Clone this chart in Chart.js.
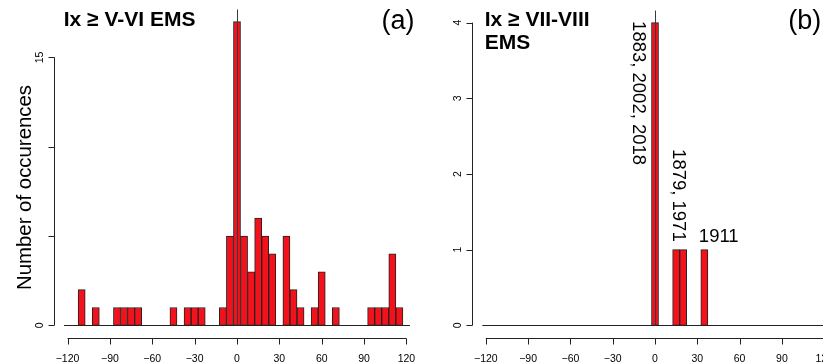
<!DOCTYPE html>
<html><head><meta charset="utf-8">
<script src="https://cdn.jsdelivr.net/npm/chart.js@4.4.1/dist/chart.umd.min.js"></script>
<style>
html,body{margin:0;padding:0;background:#fff;overflow:hidden;width:823px;height:364px;}
#wrap{position:relative;width:823px;height:364px;overflow:hidden;}
canvas{position:absolute;top:0;}
#ca{left:0;}
#cb{left:440px;}
</style></head><body>
<div id="wrap"><canvas id="ca" width="440" height="364"></canvas><canvas id="cb" width="420" height="364"></canvas></div>
<script>
// ---------------- DATA ----------------
const binCentersA = [-110, -100, -85, -80, -75, -70, -45, -35, -30, -25, -10, -5, 0, 5, 10, 15, 20, 25, 35, 40, 45, 55, 60, 70, 95, 100, 105, 110, 115];
const countsA     = [2, 1, 1, 1, 1, 1, 1, 1, 1, 1, 1, 5, 17, 5, 3, 6, 5, 4, 5, 2, 1, 1, 3, 1, 1, 1, 1, 4, 1];
const binCentersB = [0, 15, 20, 35];
const countsB     = [4, 1, 1, 1];
const histRange   = [-122.5, 122.5];
const xLim        = [-120, 120];
const xTicks      = [-120, -90, -60, -30, 0, 30, 60, 90, 120];
const yLimA       = [0, 17];
const yTicksA     = [0, 5, 10, 15];
const yTickLabelsA = ['0', '', '', '15'];
const yLimB       = [0, 4];
const yTicksB     = [0, 1, 2, 3, 4];
const yTickLabelsB = ['0', '1', '2', '3', '4'];
const titleA      = ['Ix \u2265 V-VI EMS'];
const titleB      = ['Ix \u2265 VII-VIII', 'EMS'];
const tagA = '(a)', tagB = '(b)';
const yAxisTitle  = 'Number of occurences';
const eventLabelsB = ['1883, 2002, 2018', '1879, 1971', '1911'];
const eventBinsB   = [[0], [15, 20], [35]];

// ---------------- STYLE ----------------
const FONT = '"Liberation Sans", Arial, Helvetica, sans-serif';
const BAR_FILL = '#f3111b';
const LINE = '#222';
const expand = (lim) => { const d = (lim[1] - lim[0]) * 0.04; return [lim[0] - d, lim[1] + d]; };
const fmt = (v) => (v < 0 ? '\u2212' + Math.abs(v) : String(v));

const rStyle = {
  id: 'rStyle',
  beforeDatasetsDraw(chart) {
    const { ctx } = chart, x = chart.scales.x, y = chart.scales.y;
    ctx.save();
    ctx.strokeStyle = LINE; ctx.lineWidth = 1;
    const py = Math.round(y.getPixelForValue(0)) + 0.5;
    ctx.beginPath();
    ctx.moveTo(x.getPixelForValue(histRange[0]), py);
    ctx.lineTo(x.getPixelForValue(histRange[1]), py);
    ctx.stroke();
    ctx.restore();
  },
  afterDatasetsDraw(chart) {
    const o = chart.options.plugins.rStyle;
    const { ctx, chartArea } = chart, x = chart.scales.x, y = chart.scales.y;
    ctx.save();
    // vertical reference line at 0
    const p0 = Math.round(x.getPixelForValue(0)) + 0.5;
    ctx.strokeStyle = '#3a3a3a'; ctx.lineWidth = 1;
    ctx.beginPath(); ctx.moveTo(p0, chartArea.top); ctx.lineTo(p0, y.getPixelForValue(0)); ctx.stroke();

    ctx.strokeStyle = LINE; ctx.fillStyle = '#000';
    // y axis
    const ax = Math.round(chartArea.left) + 0.5;
    const yt = o.yTicks;
    ctx.beginPath();
    ctx.moveTo(ax, y.getPixelForValue(yt[0])); ctx.lineTo(ax, y.getPixelForValue(yt[yt.length - 1]));
    yt.forEach(v => { const py = Math.round(y.getPixelForValue(v)) + 0.5; ctx.moveTo(ax, py); ctx.lineTo(ax - 6, py); });
    ctx.stroke();
    ctx.font = '10.5px ' + FONT; ctx.textAlign = 'center'; ctx.textBaseline = 'alphabetic';
    yt.forEach((v, i) => {
      if (!o.yTickLabels[i]) return;
      ctx.save(); ctx.translate(ax - 11.5, y.getPixelForValue(v)); ctx.rotate(-Math.PI / 2);
      ctx.fillText(o.yTickLabels[i], 0, 0); ctx.restore();
    });
    // x axis
    const ay = Math.round(chartArea.bottom) + 0.5;
    ctx.beginPath();
    ctx.moveTo(x.getPixelForValue(xTicks[0]), ay); ctx.lineTo(x.getPixelForValue(xTicks[xTicks.length - 1]), ay);
    xTicks.forEach(v => { const px = Math.round(x.getPixelForValue(v)) + 0.5; ctx.moveTo(px, ay); ctx.lineTo(px, ay + 6); });
    ctx.stroke();
    xTicks.forEach(v => ctx.fillText(fmt(v), x.getPixelForValue(v), 361.5));

    // titles
    ctx.textAlign = 'left';
    ctx.font = 'bold 21px ' + FONT;
    o.title.forEach((t, i) => ctx.fillText(t, o.titleX, 26 + i * 23.3));
    ctx.font = '27px ' + FONT;
    ctx.fillText(o.tag, o.tagX, 29.3);

    if (o.yTitle) {
      ctx.save(); ctx.font = '20.4px ' + FONT; ctx.textAlign = 'center';
      ctx.translate(30.5, 187.5); ctx.rotate(-Math.PI / 2); ctx.fillText(o.yTitle, 0, 0); ctx.restore();
    }
    if (o.events) {
      ctx.font = '18.5px ' + FONT;
      o.events.labels.forEach((lab, i) => {
        const bins = o.events.bins[i];
        const cx = bins.reduce((s, b) => s + b, 0) / bins.length;
        const cnt = Math.max(...bins.map(b => o.events.counts[o.events.centers.indexOf(b)]));
        const px = x.getPixelForValue(cx), py = y.getPixelForValue(cnt);
        ctx.save();
        if (i === 0) {
          ctx.translate(px - 22.1, py - 1.5); ctx.rotate(Math.PI / 2); ctx.textAlign = 'left';
          ctx.fillText(lab, 0, 0);
        } else if (i === 1) {
          ctx.translate(px - 6.6, py - 8); ctx.rotate(Math.PI / 2); ctx.textAlign = 'right';
          ctx.fillText(lab, 0, 0);
        } else {
          ctx.textAlign = 'left';
          ctx.fillText(lab, px - 5.5, py - 7.6);
        }
        ctx.restore();
      });
    }
    ctx.restore();
  }
};

function makeChart(id, centers, counts, yLim, pad, extra) {
  const xs = expand(xLim), ys = expand(yLim);
  return new Chart(document.getElementById(id), {
    type: 'bar',
    data: {
      datasets: [{
        data: centers.map((c, i) => ({ x: c, y: counts[i] })),
        backgroundColor: BAR_FILL,
        borderColor: LINE,
        borderWidth: 1,
        borderSkipped: false,
        barPercentage: 1,
        categoryPercentage: 1
      }]
    },
    options: {
      responsive: false,
      animation: false,
      layout: { padding: pad },
      plugins: { legend: { display: false }, tooltip: { enabled: false }, rStyle: extra },
      scales: {
        x: { type: 'linear', display: false, offset: false, grid: { offset: false }, min: xs[0], max: xs[1] },
        y: { type: 'linear', display: false, min: ys[0], max: ys[1] }
      }
    },
    plugins: [rStyle]
  });
}

makeChart('ca', binCentersA, countsA, yLimA, { left: 54, right: 20, top: 9.5, bottom: 26.5 }, {
  yTicks: yTicksA, yTickLabels: yTickLabelsA, title: titleA, titleX: 63.7, tag: tagA, tagX: 381.5, yTitle: yAxisTitle
});
makeChart('cb', binCentersB, countsB, yLimB, { left: 32.3, right: 22.3, top: 10.5, bottom: 26.5 }, {
  yTicks: yTicksB, yTickLabels: yTickLabelsB, title: titleB, titleX: 44.7, tag: tagB, tagX: 348.2,
  events: { labels: eventLabelsB, bins: eventBinsB, centers: binCentersB, counts: countsB }
});
</script>
</body></html>
